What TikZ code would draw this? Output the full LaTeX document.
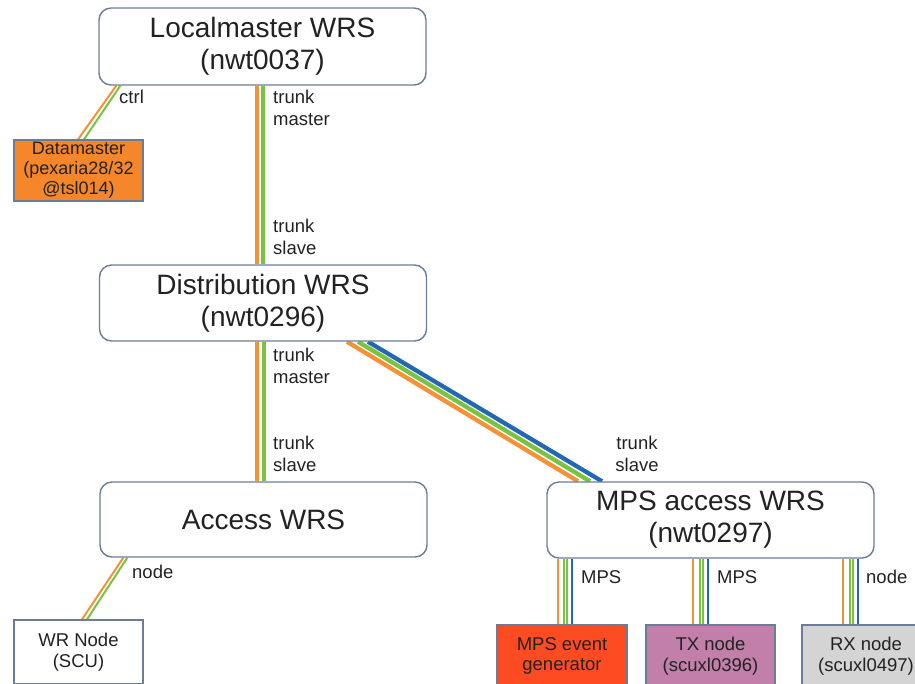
\documentclass[tikz,border=0pt]{standalone}
\usepackage{fontspec}
\setmainfont{Liberation Sans}
\usetikzlibrary{calc}
\pgfdeclarelayer{bg}
\pgfsetlayers{bg,main}
\definecolor{orn}{HTML}{F39237}
\definecolor{grn}{HTML}{7CC242}
\definecolor{blu}{HTML}{2468B2}
\definecolor{bord}{HTML}{6B7C96}
\definecolor{txt}{HTML}{222222}
\definecolor{dmfill}{HTML}{F5862A}
\definecolor{mpsfill}{HTML}{FF4B22}
\definecolor{txfill}{HTML}{C27FAA}
\definecolor{rxfill}{HTML}{D4D4D4}
\tikzset{
  wrs/.style={draw=bord, line width=1.4pt, rounded corners=12pt, fill=white,
    minimum width=327pt, minimum height=77pt, inner sep=0pt,
    font=\fontsize{28}{32}\selectfont, align=center, text=txt},
  endbox/.style={draw=bord, line width=1.2pt, minimum width=129pt, inner sep=0pt,
    font=\fontsize{18.5}{20.5}\selectfont, align=center, text=txt},
  lbl/.style={font=\fontsize{18.5}{21.5}\selectfont, text=txt, align=left,
    anchor=west, inner sep=0pt},
  tO/.style={draw=orn, line width=4.5pt},
  tG/.style={draw=grn, line width=4.5pt},
  dO/.style={draw=orn, line width=4.3pt},
  dG/.style={draw=grn, line width=4.3pt},
  dB/.style={draw=blu, line width=4.3pt},
  sO/.style={draw=orn, line width=2pt},
  sG/.style={draw=grn, line width=2pt},
  sB/.style={draw=blu, line width=2pt}
}
\begin{document}
\begin{tikzpicture}[x=1pt,y=-1pt]
\useasboundingbox (0,0) rectangle (915,683);
\clip (0,0) rectangle (915,683);

% main boxes
\node[wrs] (lm) at (262.5,46.5) {Localmaster WRS\\(nwt0037)};
\node[wrs, minimum height=76pt] (dist) at (263,303) {Distribution WRS\\(nwt0296)};
\node[wrs, minimum height=75pt] (acc) at (263.5,519.5) {Access WRS};
\node[wrs, minimum height=76pt] (mps) at (710.5,520) {MPS access WRS\\(nwt0297)};

% end boxes
\node[endbox, fill=dmfill, minimum height=61pt, font=\fontsize{18}{20}\selectfont] (dm) at (78.5,170.5) {Datamaster\\(pexaria28/32\\@tsl014)};
\node[endbox, fill=white, minimum height=64pt] (wr) at (78.5,652) {WR Node\\(SCU)};
\node[endbox, fill=mpsfill, minimum width=130pt, minimum height=62pt] (gen) at (562,656) {MPS event\\generator};
\node[endbox, fill=txfill, minimum height=62pt] (tx) at (710.5,656) {TX node\\(scuxl0396)};
\node[endbox, fill=rxfill, minimum width=128pt, minimum height=62pt] (rx) at (866,656) {RX node\\(scuxl0497)};

% connectors
\begin{pgfonlayer}{bg}
\draw[tO] ([xshift=-5.5]lm.south) -- ([xshift=-6]dist.north);
\draw[tG] ([xshift=0.5]lm.south) -- ([xshift=0]dist.north);

\draw[tO] ([xshift=-6]dist.south) -- ([xshift=-6.5]acc.north);
\draw[tG] ([xshift=1]dist.south) -- ([xshift=0.5]acc.north);

\draw[dO] ([xshift=84]dist.south) -- ([xshift=-132.5]mps.north);
\draw[dG] ([xshift=95]dist.south) -- ([xshift=-120.5]mps.north);
\draw[dB] ([xshift=105]dist.south) -- ([xshift=-108.5]mps.north);

\draw[sO] ([xshift=18]lm.south west) -- ([xshift=-0.5]dm.north);
\draw[sG] ([xshift=22]lm.south west) -- ([xshift=5.5]dm.north);

\draw[sO] ([xshift=24]acc.south west) -- ([xshift=3.5]wr.north);
\draw[sG] ([xshift=28]acc.south west) -- ([xshift=8.5]wr.north);

\draw[sO] ([xshift=-4.5]gen.north) -- ([xshift=-4.5]gen.north |- mps.south);
\draw[sG] ([xshift=2]gen.north) -- ([xshift=2]gen.north |- mps.south);
\draw[sG] ([xshift=5]gen.north) -- ([xshift=5]gen.north |- mps.south);
\draw[sB] ([xshift=10]gen.north) -- ([xshift=10]gen.north |- mps.south);

\draw[sO] ([xshift=-17.5]tx.north) -- ([xshift=-17.5]tx.north |- mps.south);
\draw[sG] ([xshift=-10.5]tx.north) -- ([xshift=-10.5]tx.north |- mps.south);
\draw[sG] ([xshift=-7.5]tx.north) -- ([xshift=-7.5]tx.north |- mps.south);
\draw[sB] ([xshift=-2.5]tx.north) -- ([xshift=-2.5]tx.north |- mps.south);

\draw[sO] ([xshift=-23]rx.north) -- ([xshift=-23]rx.north |- mps.south);
\draw[sG] ([xshift=-16.5]rx.north) -- ([xshift=-16.5]rx.north |- mps.south);
\draw[sG] ([xshift=-13.5]rx.north) -- ([xshift=-13.5]rx.north |- mps.south);
\draw[sB] ([xshift=-8.5]rx.north) -- ([xshift=-8.5]rx.north |- mps.south);
\end{pgfonlayer}

% labels
\node[lbl] (l1) at (273,108) {trunk\\master};
\node[lbl] (l2) at (273,237) {trunk\\slave};
\node[lbl] (l3) at (273,366) {trunk\\master};
\node[lbl] (l4) at (273,454) {trunk\\slave};
\node[lbl, align=center, anchor=center] (l5) at (637,454) {trunk\\slave};
\node[lbl] (l6) at (119,97) {ctrl};
\node[lbl] (l7) at (132,572) {node};
\node[lbl] (l8) at (581,577) {MPS};
\node[lbl] (l9) at (717,577) {MPS};
\node[lbl] (l10) at (866,577) {node};
\end{tikzpicture}
\end{document}
